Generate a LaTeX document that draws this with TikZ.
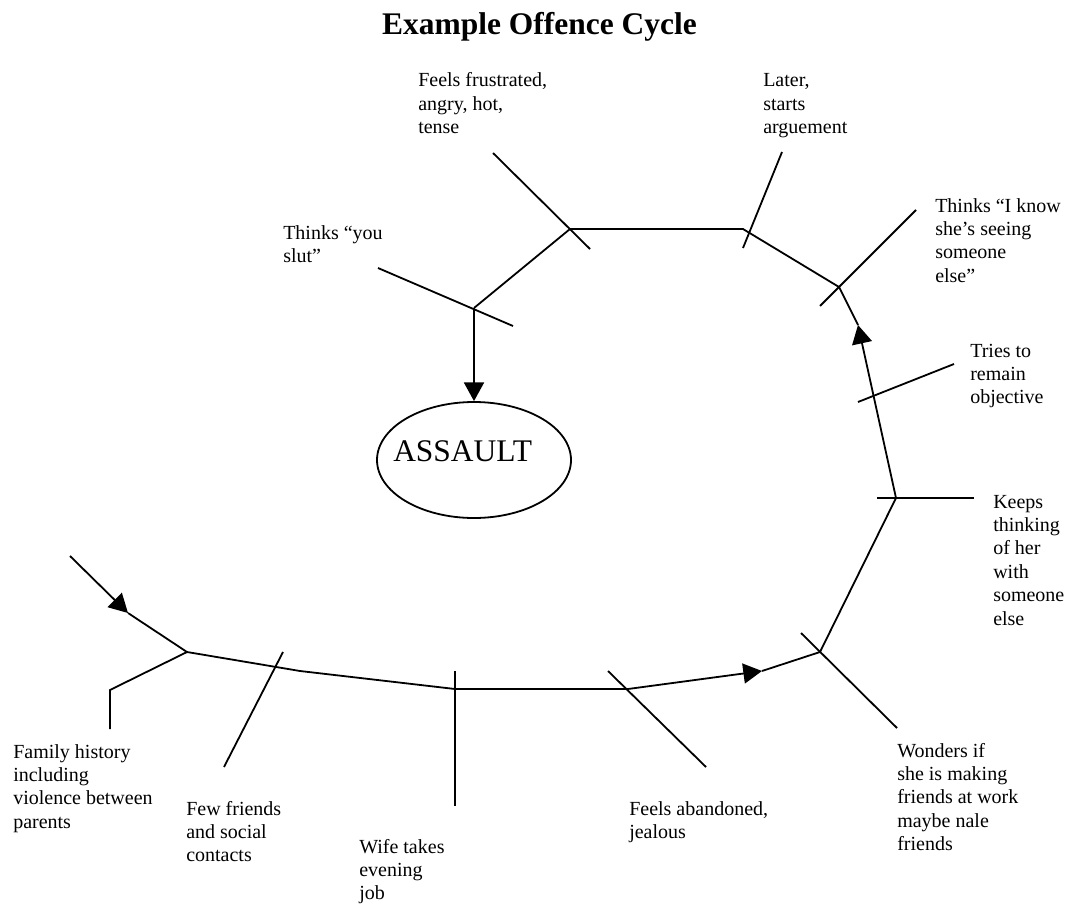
\documentclass[tikz,border=0pt]{standalone}
\usepackage{fontspec}
\setmainfont{Liberation Serif}
\usetikzlibrary{arrows.meta,shapes.geometric}
\newcommand{\lbltext}[1]{\begin{tabular}[t]{@{}l@{}}#1\end{tabular}}
\begin{document}
\begin{tikzpicture}[x=0.75pt,y=-0.75pt,
  lbl/.style={anchor=base west, inner sep=0pt, font=\fontsize{15pt}{17.6pt}\selectfont},
  conn/.style={line width=1.35pt, line cap=butt},
  arr/.style={conn, -{Triangle[length=14pt,width=15pt]}}]
\fill[white] (0,0) rectangle (1071,906);
\useasboundingbox (0,0) rectangle (1071,906);

% title
\node[anchor=base, inner sep=0pt, font=\fontsize{23.6pt}{28pt}\selectfont\bfseries] (title) at (539.5,35) {Example Offence Cycle};

% assault
\node[ellipse, draw, line width=1.35pt, minimum width=145.5pt, minimum height=87pt, inner sep=0pt] (assault) at (474,460) {};
\node[anchor=base west, inner sep=0pt, font=\fontsize{23.6pt}{28pt}\selectfont] (assaulttext) at (393,461) {ASSAULT};

% junctions and bends
\coordinate (A) at (474,308);
\coordinate (B) at (570,229);
\coordinate (C) at (743,229);
\coordinate (D) at (839,287);
\coordinate (M1) at (858,325);
\coordinate (E) at (896,498);
\coordinate (F) at (820,652);
\coordinate (M2) at (762,671);
\coordinate (G) at (628,689);
\coordinate (H) at (455,689);
\coordinate (J) at (300,671);
\coordinate (I) at (187,652);
\coordinate (M3) at (128,613);
\coordinate (S0) at (70,556);

% spoke ends
\coordinate (a1) at (378,268); \coordinate (a2) at (513,326);
\coordinate (b1) at (493,153); \coordinate (b2) at (590,249);
\coordinate (c1) at (782,152); \coordinate (c2) at (743,248);
\coordinate (d1) at (916,210); \coordinate (d2) at (820,306);
\coordinate (t1) at (954,364); \coordinate (t2) at (858,402);
\coordinate (e1) at (877,498); \coordinate (e2) at (974,498);
\coordinate (f1) at (801,633); \coordinate (f2) at (897,728);
\coordinate (g1) at (608,671); \coordinate (g2) at (706,767);
\coordinate (h1) at (455,671); \coordinate (h2) at (455,806);
\coordinate (j1) at (283,652); \coordinate (j2) at (224,767);
\coordinate (k1) at (110,690); \coordinate (k2) at (110,729);

% main cycle
\draw[arr] (S0) -- (M3);
\draw[conn] (M3) -- (I) -- (J) -- (H) -- (G);
\draw[arr] (G) -- (M2);
\draw[conn] (M2) -- (F) -- (E);
\draw[arr] (E) -- (M1);
\draw[conn] (M1) -- (D) -- (C) -- (B) -- (A);
\draw[arr] (A) -- (assault.north);

% spokes
\draw[conn] (a1) -- (a2);
\draw[conn] (b1) -- (b2);
\draw[conn] (c1) -- (c2);
\draw[conn] (d1) -- (d2);
\draw[conn] (t1) -- (t2);
\draw[conn] (e1) -- (e2);
\draw[conn] (f1) -- (f2);
\draw[conn] (g1) -- (g2);
\draw[conn] (h1) -- (h2);
\draw[conn] (j1) -- (j2);
\draw[conn] (I) -- (k1) -- (k2);

% labels
\node[lbl] (lfrus) at (418,87) {\lbltext{Feels frustrated,\\angry, hot,\\tense}};
\node[lbl] (llater) at (763,87) {\lbltext{Later,\\starts\\arguement}};
\node[lbl] (lslut) at (283,239) {\lbltext{Thinks “you\\slut”}};
\node[lbl] (lknow) at (935,212) {\lbltext{Thinks “I know\\she’s seeing\\someone\\else”}};
\node[lbl] (ltries) at (970,357) {\lbltext{Tries to\\remain\\objective}};
\node[lbl] (lkeeps) at (993,508) {\lbltext{Keeps\\thinking\\of her\\with\\someone\\else}};
\node[lbl] (lwonders) at (897,757) {\lbltext{Wonders if\\she is making\\friends at work\\maybe nale\\friends}};
\node[lbl] (laband) at (629,815) {\lbltext{Feels abandoned,\\jealous}};
\node[lbl] (lwife) at (359,853) {\lbltext{Wife takes\\evening\\job}};
\node[lbl] (lfew) at (186,815) {\lbltext{Few friends\\and social\\contacts}};
\node[lbl] (lfamily) at (13,758) {\lbltext{Family history\\including\\violence between\\parents}};
\end{tikzpicture}
\end{document}
